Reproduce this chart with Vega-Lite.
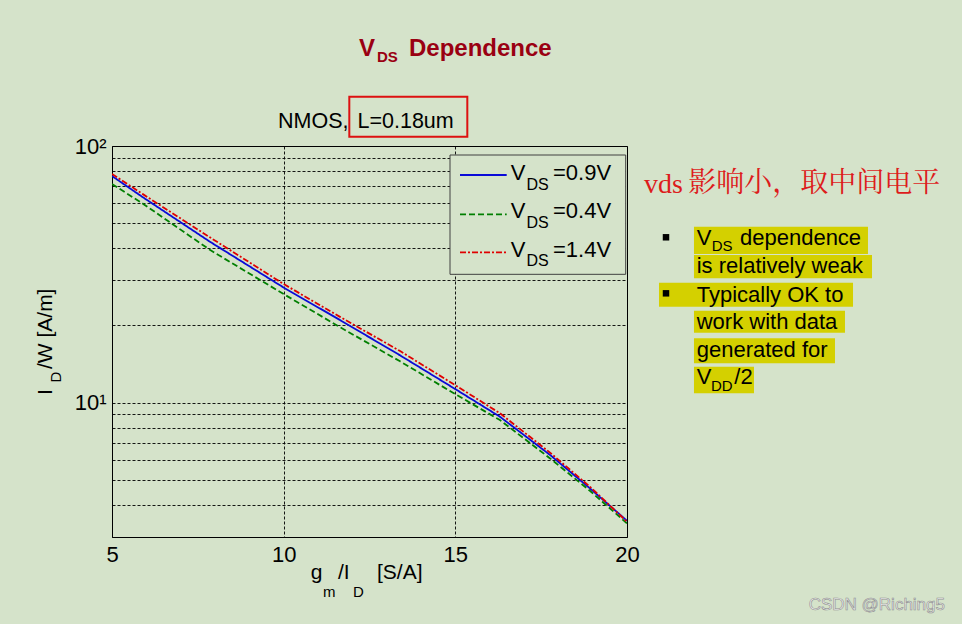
{
  "$schema": "https://vega.github.io/schema/vega-lite/v6.json",
  "width": 515,
  "height": 391,
  "autosize": "none",
  "padding": {"left": 112, "top": 146, "right": 335, "bottom": 87},
  "background": "#d5e3ca",
  "config": {
    "view": {"stroke": "black", "strokeWidth": 1},
    "axis": {"domain": false, "ticks": false, "labelFont": "Liberation Sans", "labelFontSize": 22, "labelColor": "black", "gridColor": "black", "gridDash": [3, 2], "gridWidth": 1, "gridOpacity": 0.9, "title": null},
    "text": {"font": "Liberation Sans", "color": "black", "align": "left", "baseline": "alphabetic"}
  },
  "data": {"values": [{}]},
  "layer": [
    {
      "data": {"values": [
        {"x": 5, "y": 76.4, "s": "0.9"}, {"x": 5.91, "y": 63.0, "s": "0.9"}, {"x": 7.85, "y": 42.4, "s": "0.9"}, {"x": 10, "y": 28.1, "s": "0.9"}, {"x": 11.64, "y": 21.0, "s": "0.9"}, {"x": 13.39, "y": 15.3, "s": "0.9"}, {"x": 15, "y": 11.3, "s": "0.9"}, {"x": 16.3, "y": 8.82, "s": "0.9"}, {"x": 17.76, "y": 6.26, "s": "0.9"}, {"x": 18.92, "y": 4.64, "s": "0.9"}, {"x": 20, "y": 3.47, "s": "0.9"},
        {"x": 5, "y": 71.1, "s": "0.4"}, {"x": 5.91, "y": 59.5, "s": "0.4"}, {"x": 7.85, "y": 39.4, "s": "0.4"}, {"x": 10, "y": 26.5, "s": "0.4"}, {"x": 11.64, "y": 19.7, "s": "0.4"}, {"x": 13.39, "y": 14.5, "s": "0.4"}, {"x": 15, "y": 10.8, "s": "0.4"}, {"x": 16.3, "y": 8.56, "s": "0.4"}, {"x": 17.76, "y": 6.07, "s": "0.4"}, {"x": 18.92, "y": 4.54, "s": "0.4"}, {"x": 20, "y": 3.39, "s": "0.4"},
        {"x": 5, "y": 77.8, "s": "1.4"}, {"x": 5.91, "y": 64.8, "s": "1.4"}, {"x": 7.85, "y": 44.1, "s": "1.4"}, {"x": 10, "y": 29.0, "s": "1.4"}, {"x": 11.64, "y": 21.6, "s": "1.4"}, {"x": 13.39, "y": 15.9, "s": "1.4"}, {"x": 15, "y": 11.7, "s": "1.4"}, {"x": 16.3, "y": 9.1, "s": "1.4"}, {"x": 17.76, "y": 6.39, "s": "1.4"}, {"x": 18.92, "y": 4.71, "s": "1.4"}, {"x": 20, "y": 3.44, "s": "1.4"}
      ]},
      "mark": {"type": "line", "strokeWidth": 1.8, "clip": true},
      "encoding": {
        "x": {"field": "x", "type": "quantitative", "scale": {"domain": [5, 20], "nice": false, "zero": false}, "axis": {"values": [5, 10, 15, 20], "labelPadding": 7, "labelFlush": false, "title": null}},
        "y": {"field": "y", "type": "quantitative", "scale": {"type": "log", "domain": [3, 100], "nice": false}, "axis": {"values": [3, 4, 5, 6, 7, 8, 9, 10, 20, 30, 40, 50, 60, 70, 80, 90, 100], "labelExpr": "datum.value == 10 ? '10¹' : datum.value == 100 ? '10²' : ''", "labelOverlap": false, "labelFlush": false, "labelPadding": 6, "title": null}},
        "color": {"field": "s", "type": "nominal", "scale": {"domain": ["0.9", "0.4", "1.4"], "range": ["#0a0ad8", "#007f00", "#e00000"]}, "legend": null},
        "strokeDash": {"field": "s", "type": "nominal", "scale": {"domain": ["0.9", "0.4", "1.4"], "range": [[1, 0], [6, 3], [6, 2, 2, 2]]}, "legend": null},
        "order": {"field": "x", "type": "quantitative"}
      }
    },
    {"mark": {"type": "rect", "fill": "#d5e3ca", "stroke": "#404040", "strokeWidth": 1}, "encoding": {"x": {"datum": 14.845}, "x2": {"datum": 19.962}, "y": {"datum": 92.24}, "y2": {"datum": 31.64}}},
    {"mark": {"type": "rule", "color": "#0a0ad8", "strokeWidth": 1.8}, "encoding": {"x": {"datum": 15.136}, "x2": {"datum": 16.496}, "y": {"datum": 77.09}}},
    {"mark": {"type": "rule", "color": "#007f00", "strokeWidth": 1.8, "strokeDash": [6, 3]}, "encoding": {"x": {"datum": 15.136}, "x2": {"datum": 16.496}, "y": {"datum": 54.20}}},
    {"mark": {"type": "rule", "color": "#e00000", "strokeWidth": 1.8, "strokeDash": [6, 2, 2, 2]}, "encoding": {"x": {"datum": 15.136}, "x2": {"datum": 16.496}, "y": {"datum": 38.55}}},
    {"mark": {"type": "text", "text": "V", "fontSize": 22}, "encoding": {"x": {"datum": 16.613}, "y": {"datum": 73.73}}},
    {"mark": {"type": "text", "text": "DS", "fontSize": 16}, "encoding": {"x": {"datum": 17.073}, "y": {"datum": 67.39}}},
    {"mark": {"type": "text", "text": "=0.9V", "fontSize": 22}, "encoding": {"x": {"datum": 17.845}, "y": {"datum": 73.73}}},
    {"mark": {"type": "text", "text": "V", "fontSize": 22}, "encoding": {"x": {"datum": 16.613}, "y": {"datum": 52.20}}},
    {"mark": {"type": "text", "text": "DS", "fontSize": 16}, "encoding": {"x": {"datum": 17.073}, "y": {"datum": 47.74}}},
    {"mark": {"type": "text", "text": "=0.4V", "fontSize": 22}, "encoding": {"x": {"datum": 17.845}, "y": {"datum": 52.20}}},
    {"mark": {"type": "text", "text": "V", "fontSize": 22}, "encoding": {"x": {"datum": 16.613}, "y": {"datum": 37.06}}},
    {"mark": {"type": "text", "text": "DS", "fontSize": 16}, "encoding": {"x": {"datum": 17.073}, "y": {"datum": 34.09}}},
    {"mark": {"type": "text", "text": "=1.4V", "fontSize": 22}, "encoding": {"x": {"datum": 17.845}, "y": {"datum": 37.06}}},

    {"mark": {"type": "text", "text": "V", "fontSize": 24, "fontWeight": "bold", "color": "#9a0012"}, "encoding": {"x": {"datum": 12.194}, "y": {"datum": 224.2}}},
    {"mark": {"type": "text", "text": "DS", "fontSize": 15, "fontWeight": "bold", "color": "#9a0012"}, "encoding": {"x": {"datum": 12.718}, "y": {"datum": 211.5}}},
    {"mark": {"type": "text", "text": "Dependence", "fontSize": 24, "fontWeight": "bold", "color": "#9a0012"}, "encoding": {"x": {"datum": 13.650}, "y": {"datum": 224.2}}},

    {"mark": {"type": "text", "text": "NMOS,", "fontSize": 21.5}, "encoding": {"x": {"datum": 9.835}, "y": {"datum": 117.0}}},
    {"mark": {"type": "text", "text": "L=0.18um", "fontSize": 21.5}, "encoding": {"x": {"datum": 12.150}, "y": {"datum": 117.0}}},
    {"mark": {"type": "rect", "fill": null, "fillOpacity": 0, "stroke": "#dd1111", "strokeWidth": 2}, "encoding": {"x": {"datum": 11.912}, "x2": {"datum": 15.349}, "y": {"datum": 155.6}, "y2": {"datum": 108.7}}},

    {"mark": {"type": "text", "text": "I", "fontSize": 21, "angle": 270}, "encoding": {"x": {"datum": 3.252}, "y": {"datum": 10.72}}},
    {"mark": {"type": "text", "text": "D", "fontSize": 15, "angle": 270}, "encoding": {"x": {"datum": 3.500}, "y": {"datum": 11.99}}},
    {"mark": {"type": "text", "text": "/W [A/m]", "fontSize": 21, "angle": 270}, "encoding": {"x": {"datum": 3.252}, "y": {"datum": 13.53}}},

    {"mark": {"type": "text", "text": "g", "fontSize": 21}, "encoding": {"x": {"datum": 10.787}, "y": {"datum": 2.058}}},
    {"mark": {"type": "text", "text": "m", "fontSize": 15}, "encoding": {"x": {"datum": 11.146}, "y": {"datum": 1.751}}},
    {"mark": {"type": "text", "text": "/I", "fontSize": 21}, "encoding": {"x": {"datum": 11.583}, "y": {"datum": 2.058}}},
    {"mark": {"type": "text", "text": "D", "fontSize": 15}, "encoding": {"x": {"datum": 12.019}, "y": {"datum": 1.751}}},
    {"mark": {"type": "text", "text": "[S/A]", "fontSize": 21}, "encoding": {"x": {"datum": 12.718}, "y": {"datum": 2.058}}},

    {"mark": {"type": "text", "text": "vds", "fontSize": 28, "font": "Liberation Serif", "color": "#dd1c1c"}, "encoding": {"x": {"datum": 20.495}, "y": {"datum": 65.6}}},
    {"mark": {"type": "text", "text": "影响小，取中间电平", "fontSize": 28, "font": "'Noto Serif CJK SC', 'Noto Sans CJK SC'", "color": "#dd1c1c"}, "encoding": {"x": {"datum": 21.785}, "y": {"datum": 66.19}}},

    {"mark": {"type": "rect", "color": "#d4d000"}, "encoding": {"x": {"datum": 21.951}, "x2": {"datum": 27.019}, "y": {"datum": 48.51}, "y2": {"datum": 37.97}}},
    {"mark": {"type": "rect", "color": "#d4d000"}, "encoding": {"x": {"datum": 21.951}, "x2": {"datum": 27.136}, "y": {"datum": 37.63}, "y2": {"datum": 30.53}}},
    {"mark": {"type": "rect", "color": "#d4d000"}, "encoding": {"x": {"datum": 20.932}, "x2": {"datum": 26.583}, "y": {"datum": 29.35}, "y2": {"datum": 23.66}}},
    {"mark": {"type": "rect", "color": "#d4d000"}, "encoding": {"x": {"datum": 21.951}, "x2": {"datum": 26.349}, "y": {"datum": 22.83}, "y2": {"datum": 18.74}}},
    {"mark": {"type": "rect", "color": "#d4d000"}, "encoding": {"x": {"datum": 21.951}, "x2": {"datum": 26.058}, "y": {"datum": 17.83}, "y2": {"datum": 14.24}}},
    {"mark": {"type": "rect", "color": "#d4d000"}, "encoding": {"x": {"datum": 21.951}, "x2": {"datum": 23.699}, "y": {"datum": 13.81}, "y2": {"datum": 10.88}}},

    {"mark": {"type": "square", "color": "black", "size": 42, "opacity": 1}, "encoding": {"x": {"datum": 21.136}, "y": {"datum": 44.10}}},
    {"mark": {"type": "square", "color": "black", "size": 42, "opacity": 1}, "encoding": {"x": {"datum": 21.136}, "y": {"datum": 26.68}}},

    {"mark": {"type": "text", "text": "V", "fontSize": 22}, "encoding": {"x": {"datum": 22.030}, "y": {"datum": 41.16}}},
    {"mark": {"type": "text", "text": "DS", "fontSize": 15}, "encoding": {"x": {"datum": 22.467}, "y": {"datum": 39.11}}},
    {"mark": {"type": "text", "text": "dependence", "fontSize": 22}, "encoding": {"x": {"datum": 23.291}, "y": {"datum": 41.16}}},
    {"mark": {"type": "text", "text": "is relatively weak", "fontSize": 22}, "encoding": {"x": {"datum": 22.030}, "y": {"datum": 31.93}}},
    {"mark": {"type": "text", "text": "Typically OK to", "fontSize": 22}, "encoding": {"x": {"datum": 22.030}, "y": {"datum": 24.75}}},
    {"mark": {"type": "text", "text": "work with data", "fontSize": 22}, "encoding": {"x": {"datum": 22.030}, "y": {"datum": 19.32}}},
    {"mark": {"type": "text", "text": "generated for", "fontSize": 22}, "encoding": {"x": {"datum": 22.030}, "y": {"datum": 15.08}}},
    {"mark": {"type": "text", "text": "V", "fontSize": 22}, "encoding": {"x": {"datum": 22.030}, "y": {"datum": 11.78}}},
    {"mark": {"type": "text", "text": "DD", "fontSize": 15}, "encoding": {"x": {"datum": 22.447}, "y": {"datum": 11.14}}},
    {"mark": {"type": "text", "text": "/2", "fontSize": 22}, "encoding": {"x": {"datum": 23.125}, "y": {"datum": 11.78}}},

    {"mark": {"type": "text", "text": "CSDN @Riching5", "fontSize": 17, "align": "right", "color": "#eeeeee", "stroke": "#8f8f8f", "strokeWidth": 0.6}, "encoding": {"x": {"datum": 29.262}, "y": {"datum": 1.559}}}
  ]
}
